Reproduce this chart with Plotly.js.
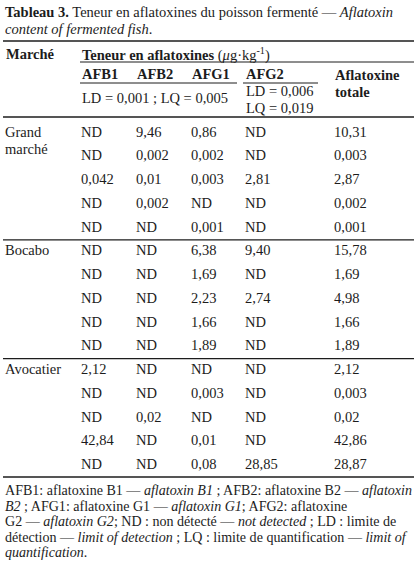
<!DOCTYPE html>
<html>
<head>
<meta charset="utf-8">
<script src="https://cdn.plot.ly/plotly-3.0.1.min.js"></script>
<style>
html,body{margin:0;padding:0;background:#fff;}
#chart{width:416px;height:567px;}
</style>
</head>
<body>
<div id="chart"></div>
<script>
// ---------- DATA ----------
const markets = ["Grand marché", "Bocabo", "Avocatier"];
const samplesPerMarket = 5;
const afb1  = ["ND","ND","0,042","ND","ND", "ND","ND","ND","ND","ND", "2,12","ND","ND","42,84","ND"];
const afb2  = ["9,46","0,002","0,01","0,002","ND", "ND","ND","ND","ND","ND", "ND","ND","0,02","ND","ND"];
const afg1  = ["0,86","0,002","0,003","ND","0,001", "6,38","1,69","2,23","1,66","1,89", "ND","0,003","ND","0,01","0,08"];
const afg2  = ["ND","ND","2,81","ND","ND", "9,40","ND","2,74","ND","ND", "ND","ND","ND","ND","28,85"];
const total = ["10,31","0,003","2,87","0,002","0,001", "15,78","1,69","4,98","1,66","1,89", "2,12","0,003","0,02","42,86","28,87"];

const colLabels = ["AFB1","AFB2","AFG1","AFG2"];
const headMarket = "Marché";
const headGroup = "<b>Teneur en aflatoxines</b> (<i>μ</i>g·kg<sup>-1</sup>)";
const headTotal = ["Aflatoxine","totale"];
const ldB = "LD = 0,001 ; LQ = 0,005";
const ldG2 = ["LD = 0,006","LQ = 0,019"];
const titleLines = [
  "<b>Tableau 3.</b> Teneur en aflatoxines du poisson fermenté — <i>Aflatoxin</i>",
  "<i>content of fermented fish</i>."
];
const noteLines = [
  "AFB1: aflatoxine B1 — <i>aflatoxin B1</i> ; AFB2: aflatoxine B2 — <i>aflatoxin</i>",
  "<i>B2</i> ; AFG1: aflatoxine G1 — <i>aflatoxin G1</i>; AFG2: aflatoxine",
  "G2 — <i>aflatoxin G2</i>; ND : non détecté — <i>not detected</i> ; LD : limite de",
  "détection — <i>limit of detection</i> ; LQ : limite de quantification — <i>limit of</i>",
  "<i>quantification</i>."
];

// ---------- LAYOUT CONSTANTS ----------
const W = 416, H = 567;
const FONT = "Liberation Serif, Times New Roman, serif";
const FS = 14.5;
const FS_NOTE = 14.05;
const INK = "#1c1c1c";
const colX = [5, 81, 136, 191, 245, 334];
const row0 = 133, rowH = 23.75;
const L = 3, R = 414;

const nRows = afb1.length;
const rowY = i => row0 + i * rowH;
const idx = Array.from({length: nRows}, (_, i) => i);

const traces = [];
const columns = [afb1, afb2, afg1, afg2, total];
columns.forEach((vals, c) => {
  traces.push({
    type: "scatter", mode: "text",
    x: idx.map(() => colX[c + 1]),
    y: idx.map(rowY),
    text: vals,
    textposition: "middle right",
    textfont: {family: FONT, size: FS, color: INK},
    hoverinfo: "skip", showlegend: false, cliponaxis: false
  });
});
// market labels (first row of each group, multi-word names split over lines)
const mx = [], my = [], mt = [];
markets.forEach((m, g) => {
  const parts = m === "Grand marché" ? ["Grand", "marché"] : [m];
  parts.forEach((p, k) => {
    mx.push(colX[0]);
    my.push(rowY(g * samplesPerMarket) + k * 17);
    mt.push(p);
  });
});
traces.push({
  type: "scatter", mode: "text", x: mx, y: my, text: mt,
  textposition: "middle right",
  textfont: {family: FONT, size: FS, color: INK},
  hoverinfo: "skip", showlegend: false, cliponaxis: false
});

function ann(text, x, y, opts) {
  return Object.assign({
    text: text, x: x, y: y, xref: "x", yref: "y",
    xanchor: "left", yanchor: "middle", showarrow: false,
    font: {family: FONT, size: FS, color: INK}, borderpad: 0
  }, opts || {});
}

const annotations = [];
annotations.push(ann(titleLines[0], 4, 12));
annotations.push(ann(titleLines[1], 4, 29));
annotations.push(ann("<b>" + headMarket + "</b>", colX[0], 54));
annotations.push(ann(headGroup, colX[1], 54));
colLabels.forEach((c, i) => annotations.push(ann("<b>" + c + "</b>", colX[i + 1], 74)));
annotations.push(ann("<b>" + headTotal[0] + "</b>", colX[5], 75));
annotations.push(ann("<b>" + headTotal[1] + "</b>", colX[5], 92));
annotations.push(ann(ldB, colX[1], 98));
annotations.push(ann(ldG2[0], colX[4], 91));
annotations.push(ann(ldG2[1], colX[4], 108));
noteLines.forEach((t, i) => annotations.push(ann(t, 4, 490 + i * 15.5,
  {font: {family: FONT, size: FS_NOTE, color: INK}})));

function hline(y, x0, x1, w) {
  return {type: "line", xref: "x", yref: "y", x0: x0, x1: x1, y0: y, y1: y,
          line: {color: INK, width: w}};
}
const shapes = [
  hline(41, L, R, 1.6),
  hline(62, 80, R, 1),
  hline(83, 80, 237, 1),
  hline(83, 243, 318, 1),
  hline(117, L, R, 1.3),
  hline((rowY(4) + rowY(5)) / 2, L, R, 1.3),
  hline((rowY(9) + rowY(10)) / 2, L, R, 1.3),
  hline(477, L, R, 1.6)
];

const layout = {
  width: W, height: H,
  margin: {l: 0, r: 0, t: 0, b: 0, pad: 0},
  paper_bgcolor: "#ffffff", plot_bgcolor: "#ffffff",
  xaxis: {range: [0, W], visible: false, fixedrange: true},
  yaxis: {range: [H, 0], visible: false, fixedrange: true},
  annotations: annotations,
  shapes: shapes,
  showlegend: false
};

Plotly.newPlot("chart", traces, layout, {staticPlot: true, displayModeBar: false});
</script>
</body>
</html>
